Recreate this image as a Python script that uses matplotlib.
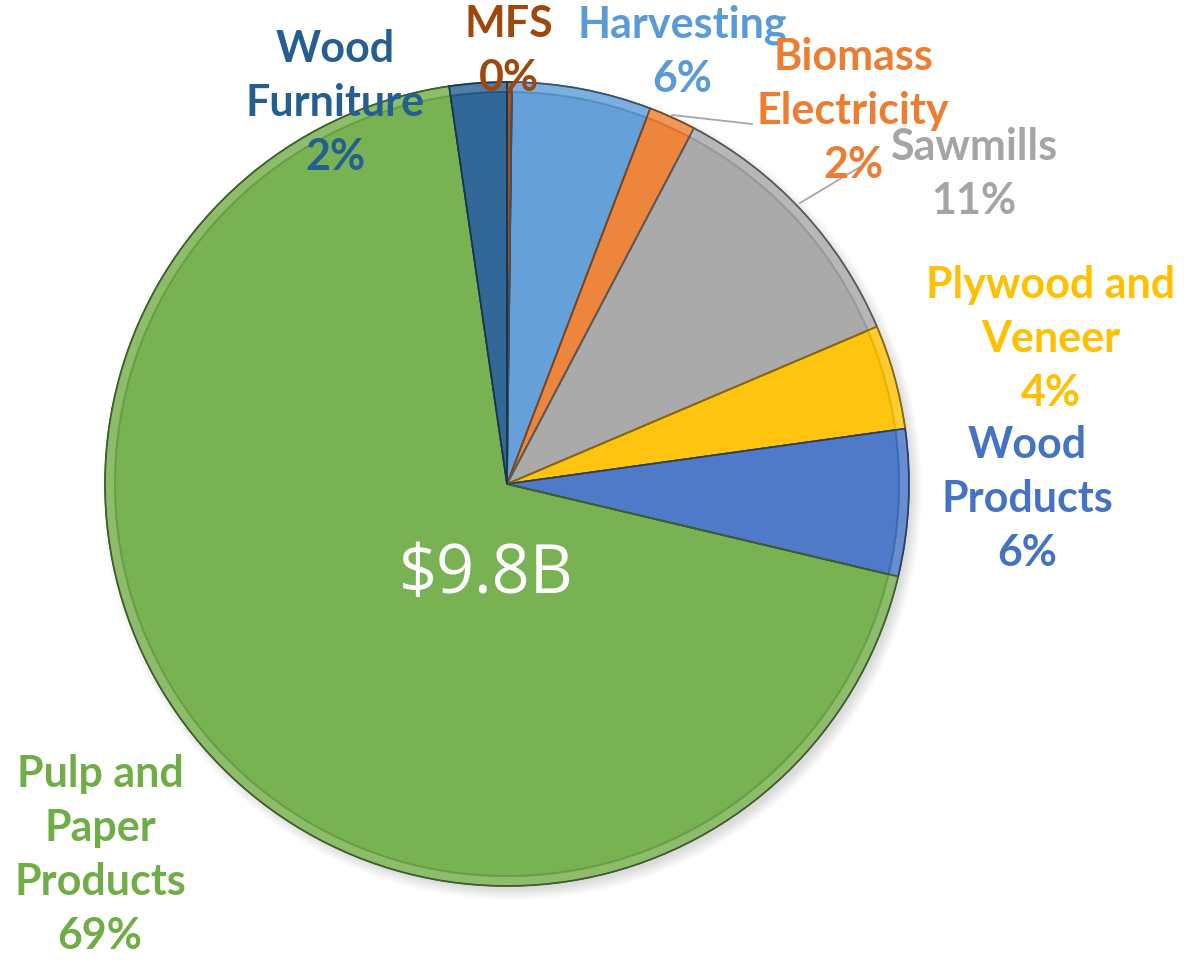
import matplotlib
matplotlib.use("Agg")
import matplotlib.pyplot as plt
from matplotlib.patches import Circle, Wedge
from matplotlib.colors import to_rgb

# share of output, clockwise from 12 o'clock
sectors = ["MFS", "Harvesting", "Biomass\nElectricity", "Sawmills", "Plywood and\nVeneer",
           "Wood\nProducts", "Pulp and\nPaper\nProducts", "Wood\nFurniture"]
shares = [0.2, 5.6, 1.9, 10.9, 4.2, 5.9, 69.0, 2.3]
colors = ["#9E480E", "#5B9BD5", "#ED7D31", "#A5A5A5", "#FFC000", "#4472C4", "#70AD47", "#255E91"]
total_label = "$9.8B"

W, H = 1187, 963
fig = plt.figure(figsize=(W / 100, H / 100), dpi=100, facecolor="white")
ax = fig.add_axes([0, 0, 1, 1])

cx, cy, r = 507, H - 484, 402

# soft drop shadow
for i in range(12):
    ax.add_patch(Circle((cx + 5, cy - 6), r + 8 - i, color="black", alpha=0.01, lw=0, zorder=0))


def shade(c, f):
    rgb = to_rgb(c)
    if f > 0:
        return tuple(v + (1 - v) * f for v in rgb)
    return tuple(v * (1 + f) for v in rgb)


face = [shade(c, 0.06) for c in colors]
wedges, _ = ax.pie(shares, colors=face, startangle=90, counterclock=False,
                   center=(cx, cy), radius=r,
                   wedgeprops=dict(linewidth=1.0, edgecolor="#5a5a5a", zorder=2))
ax.set_xlim(0, W)
ax.set_ylim(0, H)
ax.set_aspect("equal")
ax.axis("off")

# bevel: light rim along the outer edge, darker line inside it
for w, c in zip(wedges, colors):
    ax.add_patch(Wedge(w.center, w.r - 1, w.theta1, w.theta2, width=8,
                       facecolor=shade(c, 0.2), edgecolor="none", zorder=3))
    ax.add_patch(Wedge(w.center, w.r - 9, w.theta1, w.theta2, width=2,
                       facecolor=shade(c, -0.08), edgecolor="none", zorder=3))
    ax.add_patch(Wedge(w.center, w.r, w.theta1, w.theta2, fill=False,
                       edgecolor=shade(c, -0.45), lw=1.2, zorder=3))

pct = [s / sum(shares) * 100 for s in shares]
label_pos = [(509, 51), (682, 52), (853, 111), (974, 174), (1051, 339),
             (1027, 499), (100, 855), (335, 103)]
for name, p, col, (lx, ly) in zip(sectors, pct, colors, label_pos):
    ax.text(lx, H - ly, f"{name}\n{p:.0f}%", color=col, ha="center", va="center",
            fontsize=31, fontweight="bold", family="Lato", linespacing=1.42, zorder=5)

# leader lines for the two crowded labels
ax.plot([672, 752], [H - 115, H - 124], color="#A6A6A6", lw=1.3, zorder=4)
ax.plot([800, 860], [H - 203, H - 167], color="#A6A6A6", lw=1.3, zorder=4)

ax.text(486, H - 575, total_label, color="white", ha="center", va="center",
        fontsize=48, family="Open Sans", zorder=5)

fig.savefig("out.png", dpi=100, facecolor="white")
